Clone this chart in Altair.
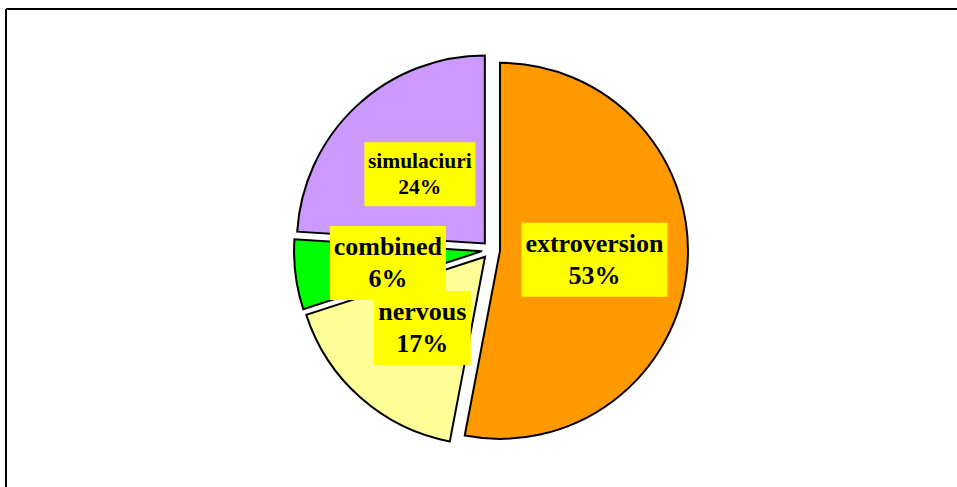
import altair as alt
import pandas as pd

# Slice data (percent shares), drawn clockwise from 12 o'clock
categories = ["extroversion", "nervous", "combined", "simulaciuri"]
shares = [53, 17, 6, 24]
slice_colors = ["#FF9900", "#FFFF99", "#00FF00", "#CC99FF"]

# Layout in pixels
W, H = 951, 478          # framed drawing area
PAD_L, PAD_T = 6, 9
R = 188                  # pie radius
CX, CY = 485, 241        # pie centre inside the frame
EXPLODE = 9 / R          # every slice pulled out along its bisector (radius units)
LABEL_R = 0.505          # label centre distance from the slice apex (radius units)

# per-label box width, box height, font size
label_style = {
    "simulaciuri": (111, 64, 21.5),
    "extroversion": (146, 74, 26),
    "combined": (116, 74, 26),
    "nervous": (97, 74, 26),
}

df = pd.DataFrame({"category": categories, "share": shares,
                   "order": list(range(len(categories)))})

# one scale unit = one pie radius
x_scale = alt.Scale(domain=[-CX / R, (W - CX) / R], zero=False, nice=False)
y_scale = alt.Scale(domain=[-(H - CY) / R, CY / R], zero=False, nice=False)

base = (
    alt.Chart(df)
    .transform_joinaggregate(total="sum(share)")
    .transform_window(cum="sum(share)", sort=[alt.SortField("order")], frame=[None, 0])
    .transform_calculate(start="2*PI*(datum.cum - datum.share)/datum.total")
    .transform_calculate(end="2*PI*datum.cum/datum.total")
    .transform_calculate(mid="(datum.start + datum.end)/2")
    .transform_calculate(cx=f"{EXPLODE}*sin(datum.mid)")
    .transform_calculate(cy=f"{EXPLODE}*cos(datum.mid)")
    .transform_calculate(lx=f"datum.cx + {LABEL_R}*sin(datum.mid)")
    .transform_calculate(ly=f"datum.cy + {LABEL_R}*cos(datum.mid)")
    .transform_calculate(pct="format(round(100*datum.share/datum.total), 'd') + '%'")
)

pie = base.mark_arc(radius=R, stroke="black", strokeWidth=2).encode(
    x=alt.X("cx:Q", scale=x_scale, axis=None),
    y=alt.Y("cy:Q", scale=y_scale, axis=None),
    theta=alt.Theta("start:Q", scale=None),
    theta2="end:Q",
    color=alt.Color("category:N",
                    scale=alt.Scale(domain=categories, range=slice_colors),
                    legend=None),
)

label_layers = []
for name, (bw, bh, fs) in label_style.items():
    sel = base.transform_filter(alt.datum.category == name)
    pos = dict(
        x=alt.X("lx:Q", scale=x_scale, axis=None),
        y=alt.Y("ly:Q", scale=y_scale, axis=None),
    )
    box = sel.mark_rect(
        color="#FFFF00",
        xOffset=-bw / 2, x2Offset=bw / 2,
        yOffset=-bh / 2, y2Offset=bh / 2,
    ).encode(x2="lx:Q", y2="ly:Q", **pos)
    txt_style = dict(font="Liberation Serif", fontWeight="bold", fontSize=fs,
                     color="black", align="center", baseline="alphabetic")
    name_txt = sel.mark_text(dy=-0.29 * fs, **txt_style).encode(text="category:N", **pos)
    pct_txt = sel.mark_text(dy=0.93 * fs, **txt_style).encode(text="pct:N", **pos)
    label_layers += [box, name_txt, pct_txt]

# chart frame: top and left edges
edge = pd.DataFrame({"edge": [0]})
top_edge = alt.Chart(edge).mark_rule(color="black", strokeWidth=2).encode(
    x=alt.value(0), x2=alt.value(W), y=alt.value(0))
left_edge = alt.Chart(edge).mark_rule(color="black", strokeWidth=2).encode(
    x=alt.value(0), y=alt.value(0), y2=alt.value(H))

chart = (
    alt.layer(pie, *label_layers, top_edge, left_edge)
    .properties(width=W, height=H,
                padding={"left": PAD_L, "top": PAD_T, "right": 0, "bottom": 0},
                autosize=alt.AutoSizeParams(type="none"))
    .configure_view(stroke=None)
    .configure(background="white")
)

chart.save("out.html", embed_options={"renderer": "svg", "actions": False})
